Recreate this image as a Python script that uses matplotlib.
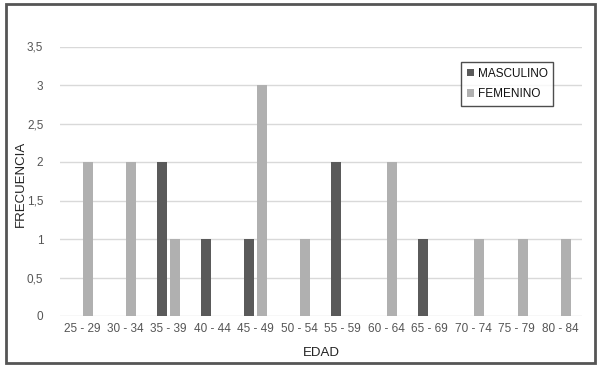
import matplotlib
matplotlib.use("Agg")
import matplotlib.pyplot as plt
import numpy as np
from matplotlib.patches import Rectangle

categories = ["25 - 29", "30 - 34", "35 - 39", "40 - 44", "45 - 49", "50 - 54",
              "55 - 59", "60 - 64", "65 - 69", "70 - 74", "75 - 79", "80 - 84"]
masculino = [0, 0, 2, 1, 1, 0, 2, 0, 1, 0, 0, 0]
femenino = [2, 2, 1, 0, 3, 1, 0, 2, 0, 1, 1, 1]
yticks = [0, 0.5, 1, 1.5, 2, 2.5, 3, 3.5]
ytick_labels = ["0", "0,5", "1", "1,5", "2", "2,5", "3", "3,5"]

plt.rcParams['font.family'] = ['Liberation Sans', 'DejaVu Sans']

fig = plt.figure(figsize=(6.05, 3.69), dpi=100)
fig.patch.set_facecolor('white')
ax = fig.add_axes([60/605, 1-316/369, 522/605, (316-46.5)/369])

x = np.arange(len(categories))
w = 0.23
ax.bar(x - 0.145, masculino, w, color='#5a5a5a', label='MASCULINO', zorder=3)
ax.bar(x + 0.143, femenino, w, color='#b0b0b0', label='FEMENINO', zorder=3)

ax.set_xlim(-0.5, len(categories) - 0.5)
ax.set_ylim(0, 3.5)
ax.set_yticks(yticks)
ax.set_yticklabels(ytick_labels)
ax.set_xticks(x)
ax.set_xticklabels(categories)
ax.tick_params(axis='both', length=0, labelsize=8.5, colors='#555555')
ax.tick_params(axis='y', pad=12)
ax.tick_params(axis='x', pad=5)
ax.grid(axis='y', color='#d9d9d9', linewidth=1, zorder=0)
for s in ax.spines.values():
    s.set_visible(False)

ax.set_xlabel("EDAD", fontsize=9.5, color='#222222', labelpad=9)
ax.set_ylabel("FRECUENCIA", fontsize=9.5, color='#222222')
ax.yaxis.set_label_coords(-0.063, 0.49)

leg = ax.legend(loc='upper left', bbox_to_anchor=((461-60)/522, (316-62)/269.5),
                frameon=True, fancybox=False, edgecolor='#222222', fontsize=8.5,
                handlelength=0.6, handleheight=0.6, handletextpad=0.3,
                borderpad=0.5, labelspacing=0.7, borderaxespad=0)
leg.get_frame().set_linewidth(1.0)
for t in leg.get_texts():
    t.set_color('#111111')

fig.patches.append(Rectangle((6/605, 1-363/369), 589/605, 359/369,
                             transform=fig.transFigure, fill=False,
                             edgecolor='#555555', linewidth=2))

fig.savefig("out.png", dpi=100)
